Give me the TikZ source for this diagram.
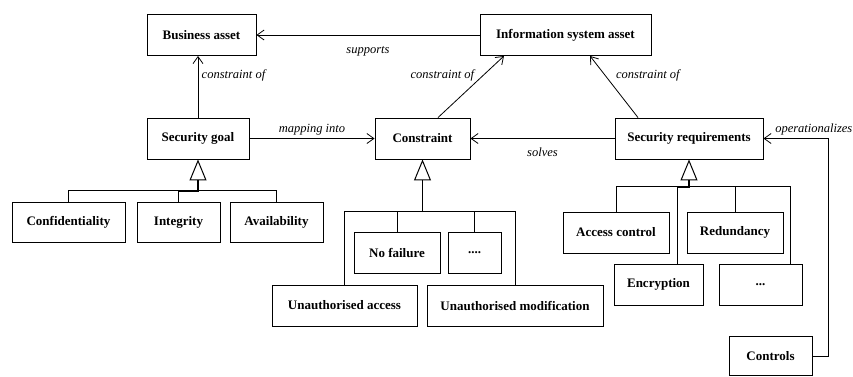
\documentclass[tikz,border=0pt]{standalone}
\usepackage{fontspec}
\setmainfont{Liberation Serif}
\usetikzlibrary{arrows.meta}
\usetikzlibrary{positioning}
\tikzset{
box/.style={draw=black, line width=0.9pt, minimum height=41pt, inner sep=2pt,
    font=\fontsize{13pt}{15pt}\selectfont\bfseries},
lbl/.style={font=\fontsize{12.5pt}{14pt}\selectfont\itshape},
assoc/.style={line width=0.8pt, -{Straight Barb[length=7pt,width=10pt]}},
tree/.style={line width=0.8pt},
gen/.style={line width=1.4pt, -{Triangle[open,length=21pt,width=17pt,line width=1pt]}}}

\begin{document}
\begin{tikzpicture}[x=10pt,y=-10pt]
            \useasboundingbox (0,0) rectangle (85.3,37.6);

                \node[box, minimum width=109pt] (biz) at (20.15,3.5) {Business asset};
                \node[box, minimum width=171pt] (isa) at (56.55,3.5) {Information system asset};
                \node[box, minimum width=102pt] (goal) at (19.8,13.85) {Security goal};
                \node[box, minimum width=95pt] (cons) at (42.25,13.85) {Constraint};
                \node[box, minimum width=148pt] (req) at (68.9,13.85) {Security requirements};

                \node[box, minimum width=113pt, minimum height=40pt] (conf) at (6.85,22.2) {Confidentiality};
                \node[box, minimum width=83pt, minimum height=40pt] (integ) at (17.85,22.2) {Integrity};
                \node[box, minimum width=93pt, minimum height=40pt] (avail) at (27.65,22.2) {Availability};

                \node[box, minimum width=86pt] (nofail) at (39.7,25.3) {No failure};
                \node[box, minimum width=53pt] (more1) at (47.45,25.3) {....};
                \node[box, minimum width=145pt] (uacc) at (34.45,30.55) {Unauthorised access};
                \node[box, minimum width=176pt] (umod) at (51.5,30.55) {Unauthorised modification};

                \node[box, minimum width=106pt] (acc) at (61.6,23.25) {Access control};
                \node[box, minimum width=96pt] (red) at (73.5,23.25) {Redundancy};
                \node[box, minimum width=89pt] (enc) at (65.85,28.45) {Encryption};
                \node[box, minimum width=83pt] (more2) at (76.05,28.45) {...};
                \node[box, minimum width=83pt, minimum height=39pt] (ctrl) at (77.05,35.6) {Controls};

                \coordinate (gj) at (19.8,19.1);
                \coordinate (cj) at (42.25,21.2);
                \coordinate (rj) at (68.9,18.7);
                \coordinate (bend) at (82.8,13.85);
                \coordinate (encin) at ([xshift=18.5pt]enc.north);
                \coordinate (more2in) at ([xshift=29.5pt]more2.north);

                % associations
                \draw[assoc] (isa.west) -- (biz.east) node[lbl, midway, below=8pt] {supports};
                \draw[assoc] (goal.north) -- (goal.north |- biz.south) node[lbl, pos=0.68, right] {constraint of};
                \draw[assoc] (goal.east) -- (cons.west) node[lbl, midway, above] {mapping into};
                \draw[assoc] ([xshift=15.5pt]cons.north) -- ([xshift=-61.5pt]isa.south) node[lbl, pos=0.68, left=5pt] {constraint of};
                \draw[assoc] ([xshift=-51pt]req.north) -- ([xshift=24.5pt]isa.south) node[lbl, pos=0.68, right=7pt] {constraint of};
                \draw[assoc] (req.west) -- (cons.east) node[lbl, midway, below=6pt] {solves};
                \draw[assoc] (ctrl.east) -| (bend) -- (req.east) node[lbl, pos=0.22, above] {operationalizes};

                % generalisations
                \draw[tree] (conf.north) -- ++(0,-1.1) -| (avail.north);
                \draw[tree] (integ.north) -- ++(0,-1.1);
                \draw[gen] (integ.north |- gj) -| (goal.south);

                \draw[tree] (uacc.north) -- ++(0,-7.3) -| (umod.north);
                \draw[tree] (nofail.north) -- ++(0,-2);
                \draw[tree] (more1.north) -- ++(0,-2);
                \draw[gen] (cj) -- (cons.south);

                \draw[tree] (acc.north) -- ++(0,-2.5) -| (more2in);
                \draw[tree] (red.north) -- ++(0,-2.5);
                \draw[tree] (encin) -- ++(0,-7.7);
                \draw[gen] (encin |- rj) -| (req.south);

\end{tikzpicture}
\end{document}
